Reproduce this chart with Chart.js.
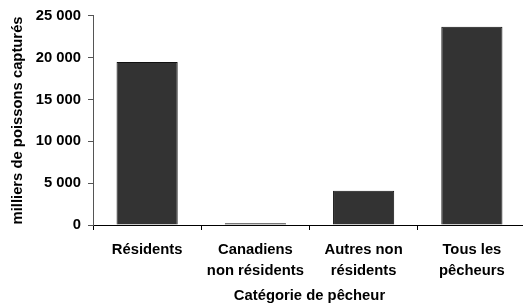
<!DOCTYPE html>
<html>
<head>
<meta charset="utf-8">
<script src="https://cdn.jsdelivr.net/npm/chart.js@4/dist/chart.umd.min.js"></script>
<style>
  html, body { margin: 0; padding: 0; background: #fff; overflow: hidden; }
  #wrap { width: 527px; height: 305px; }
</style>
</head>
<body>
<div id="wrap"><canvas id="fishChart" width="527" height="305"></canvas></div>
<script>
// Catégories de pêcheurs (étiquettes sur deux lignes)
const categories = [
    ['Résidents'],
    ['Canadiens', 'non résidents'],
    ['Autres non', 'résidents'],
    ['Tous les', 'pêcheurs']
];

// Milliers de poissons capturés
const captures = [19500, 200, 4100, 23700];

// Axe vertical
const yMin = 0;
const yMax = 25000;
const yStep = 5000;

const fontFamily = '"Liberation Sans", Arial, sans-serif';
const fontSize = 14.8;

// Format "25 000"
function formatThousands(v) {
    return String(v).replace(/\B(?=(\d{3})+(?!\d))/g, ' ');
}

const ctx = document.getElementById('fishChart').getContext('2d');

const fishChart = new Chart(ctx, {
    type: 'bar',
    data: {
        labels: categories,
        datasets: [{
            label: 'Poissons capturés',
            data: captures,
            backgroundColor: '#333333',
            borderColor: '#111111',
            borderWidth: 1,
            barPercentage: 0.565,
            categoryPercentage: 1.0
        }]
    },
    options: {
        responsive: false,
        animation: false,
        layout: { padding: { top: 15, right: 1, left: 0, bottom: 0 } },
        plugins: {
            legend: { display: false },
            tooltip: { enabled: false }
        },
        scales: {
            x: {
                offset: true,
                grid: {
                    offset: true,
                    drawOnChartArea: false,
                    drawTicks: true,
                    tickLength: 5,
                    color: '#000'
                },
                border: { color: '#000', width: 1 },
                ticks: {
                    color: '#000',
                    padding: 9,
                    maxRotation: 0,
                    autoSkip: false,
                    font: { family: fontFamily, size: fontSize, weight: 'bold', lineHeight: 1.42 }
                },
                title: {
                    display: true,
                    text: 'Catégorie de pêcheur',
                    color: '#000',
                    padding: { top: 2, bottom: 0 },
                    font: { family: fontFamily, size: fontSize, weight: 'bold' }
                },
                afterFit: (scale) => { scale.height = 80; }
            },
            y: {
                min: yMin,
                max: yMax,
                grid: {
                    drawOnChartArea: false,
                    drawTicks: true,
                    tickLength: 5,
                    color: '#555'
                },
                border: { color: '#555', width: 1 },
                ticks: {
                    stepSize: yStep,
                    color: '#000',
                    padding: 7,
                    callback: (v) => formatThousands(v),
                    font: { family: fontFamily, size: fontSize, weight: 'bold' }
                },
                title: {
                    display: true,
                    text: 'milliers de poissons capturés',
                    color: '#000',
                    padding: { top: 9, bottom: 0 },
                    font: { family: fontFamily, size: fontSize, weight: 'bold' }
                },
                afterFit: (scale) => { scale.width = 93; }
            }
        }
    }
});
</script>
</body>
</html>
